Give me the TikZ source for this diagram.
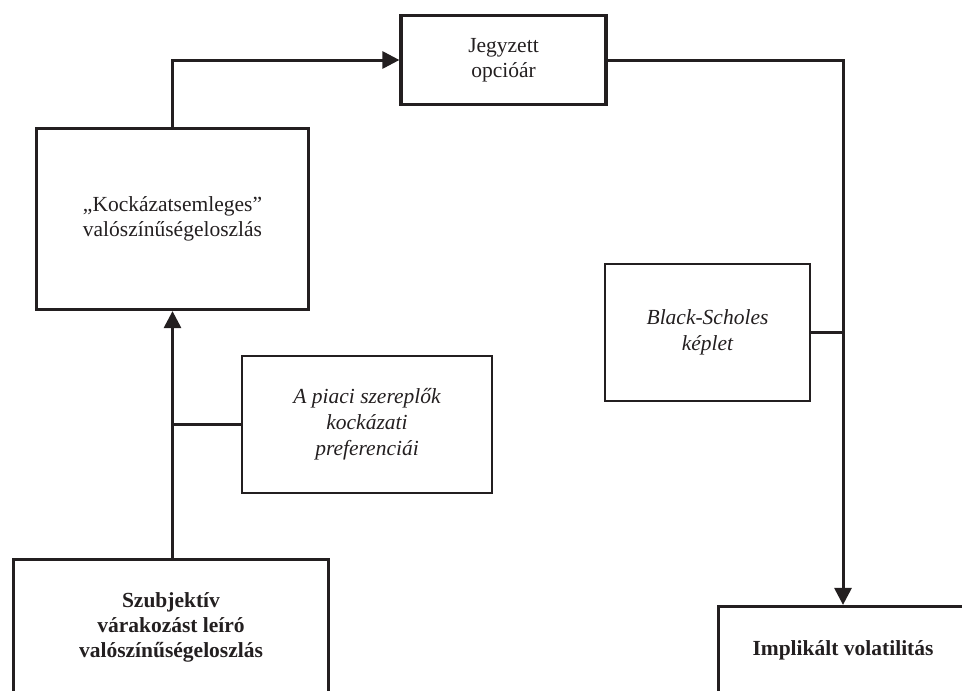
\documentclass[tikz,border=0pt]{standalone}
\usepackage{fontspec}
\setmainfont{Liberation Serif}
\usetikzlibrary{arrows.meta}
\definecolor{ink}{HTML}{231F20}
\tikzset{
  thickbox/.style={draw=ink, text=ink, line width=3.2pt, align=center, inner sep=0pt,
    font=\fontsize{21.5}{25}\selectfont},
  thinbox/.style={draw=ink, text=ink, line width=1.2pt, align=center, inner sep=0pt,
    font=\fontsize{21.5}{26}\selectfont\itshape},
  conn/.style={draw=ink, line width=3pt},
  arr/.style={conn, -{Triangle[length=17pt,width=17pt]}}
}
\begin{document}
\begin{tikzpicture}[x=1pt,y=-1pt]
\clip (0,0) rectangle (962,691);
\node[thickbox, minimum width=205pt, minimum height=89pt] (jeg) at (503.5,60) {Jegyzett\\opcióár};
\node[thickbox, minimum width=272pt, minimum height=181pt] (kock) at (172.5,219) {„Kockázatsemleges”\\valószínűségeloszlás};
\node[thickbox, minimum width=315pt, minimum height=135pt, font=\fontsize{21.5}{25}\selectfont\bfseries] (szub) at (171,627) {Szubjektív\\várakozást leíró\\valószínűségeloszlás};
\node[thickbox, minimum width=249pt, minimum height=87pt, font=\fontsize{21.5}{25}\selectfont\bfseries] (imp) at (843,650) {Implikált volatilitás};
\node[thinbox, minimum width=250pt, minimum height=137pt] (piaci) at (367,424.5) {A piaci szereplők\\kockázati\\preferenciái};
\node[thinbox, minimum width=205pt, minimum height=137pt] (bs) at (707.5,332.5) {Black-Scholes\\képlet};
\draw[arr] (kock.north) |- (jeg.west);
\draw[arr] (jeg.east) -| (imp.north);
\draw[arr] (kock.south |- szub.north) -- (kock.south);
\draw[conn] (piaci.west) -- (piaci.west -| kock.south);
\draw[conn] (bs.east) -- (bs.east -| imp.north);
\end{tikzpicture}
\end{document}
